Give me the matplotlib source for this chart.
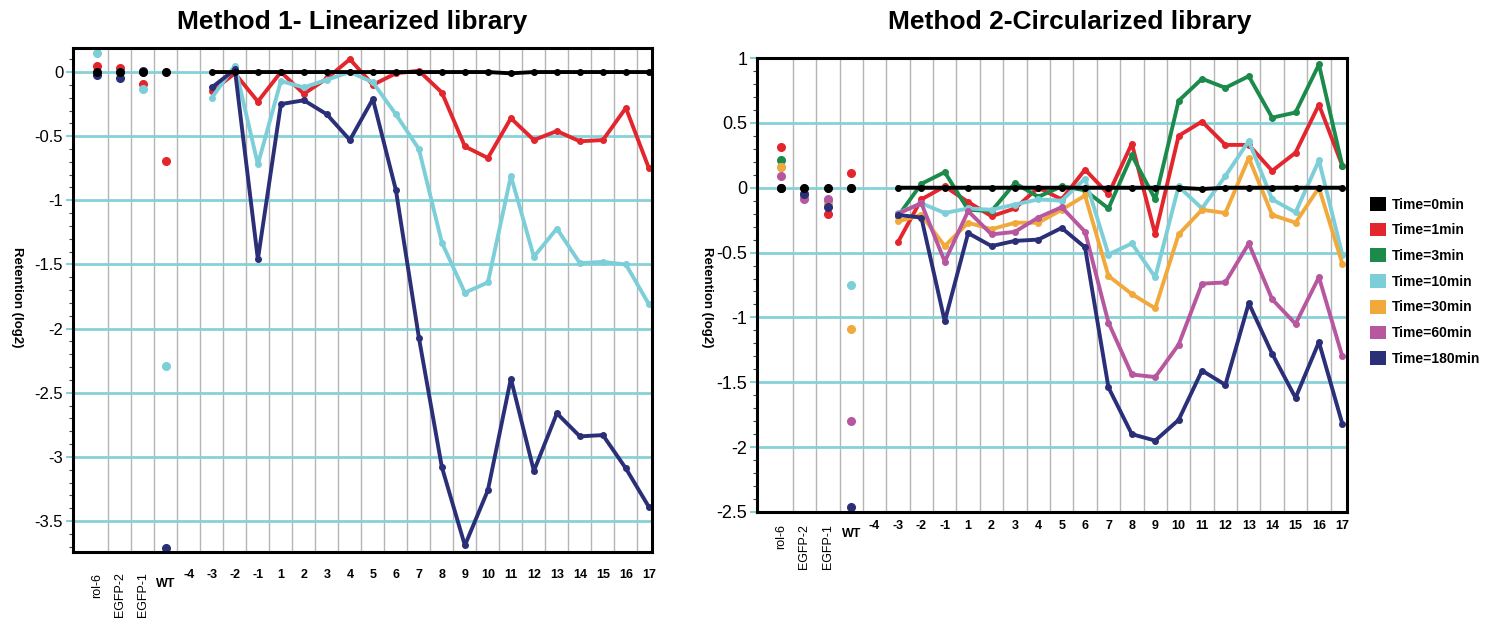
import numpy as np
import matplotlib.pyplot as plt
from matplotlib.patches import Patch
from matplotlib.ticker import MultipleLocator

plt.rcParams['font.family'] = ['Liberation Sans', 'DejaVu Sans']
plt.rcParams['axes.unicode_minus'] = False

# x categories: 4 controls, then positions -4..-1, 1..17
categories = ['rol-6', 'EGFP-2', 'EGFP-1', 'WT', '-4', '-3', '-2', '-1',
              '1', '2', '3', '4', '5', '6', '7', '8', '9', '10', '11', '12',
              '13', '14', '15', '16', '17']
control_cats = ['rol-6', 'EGFP-2', 'EGFP-1', 'WT']
line_cats = ['-3', '-2', '-1', '1', '2', '3', '4', '5', '6', '7', '8', '9',
             '10', '11', '12', '13', '14', '15', '16', '17']

series_names = ['Time=0min', 'Time=1min', 'Time=3min', 'Time=10min',
                'Time=30min', 'Time=60min', 'Time=180min']
colors = ['#000000', '#e3262d', '#1b8a4b', '#7ccfd8', '#f2a93b', '#b7579f', '#2a2f78']

# ---- Method 1 (linearized library) ----
m1_ctrl_0 = [0.0, 0.0, 0.0, 0.0]
m1_ctrl_1 = [0.05, 0.035, -0.09, -0.69]
m1_ctrl_10 = [0.148, 0.0, -0.135, -2.29]
m1_ctrl_180 = [-0.02, -0.045, 0.01, -3.71]

m1_line_0 = [0, 0, 0, 0, 0, 0, 0, 0, 0, 0, 0, 0, 0, -0.01, 0, 0, 0, 0, 0, 0]
m1_line_1 = [-0.15, -0.01, -0.23, 0.0, -0.17, -0.05, 0.10, -0.10, -0.01, 0.01,
             -0.16, -0.58, -0.67, -0.36, -0.53, -0.46, -0.54, -0.53, -0.28, -0.75]
m1_line_10 = [-0.20, 0.05, -0.72, -0.07, -0.12, -0.06, 0.0, -0.08, -0.33, -0.60,
              -1.33, -1.72, -1.64, -0.81, -1.44, -1.22, -1.49, -1.48, -1.50, -1.81]
m1_line_180 = [-0.12, 0.02, -1.46, -0.25, -0.22, -0.33, -0.53, -0.21, -0.92, -2.07,
               -3.08, -3.69, -3.26, -2.39, -3.11, -2.66, -2.84, -2.83, -3.09, -3.39]

# ---- Method 2 (circularized library) ----
m2_ctrl_0 = [0.0, 0.0, 0.0, 0.0]
m2_ctrl_1 = [0.31, -0.06, -0.20, 0.11]
m2_ctrl_3 = [0.215, -0.05, -0.10, 0.0]
m2_ctrl_10 = [0.16, -0.06, -0.12, -0.75]
m2_ctrl_30 = [0.156, -0.05, -0.12, -1.09]
m2_ctrl_60 = [0.087, -0.09, -0.09, -1.80]
m2_ctrl_180 = [0.0, -0.05, -0.145, -2.46]

m2_line_0 = [0, 0, 0, 0, 0, 0, 0, 0, 0, 0, 0, 0, 0, -0.01, 0, 0, 0, 0, 0, 0]
m2_line_1 = [-0.42, -0.09, 0.01, -0.11, -0.22, -0.16, 0.0, -0.09, 0.14, -0.05,
             0.34, -0.36, 0.40, 0.51, 0.33, 0.33, 0.13, 0.27, 0.64, 0.17]
m2_line_3 = [-0.22, 0.03, 0.12, -0.17, -0.18, 0.035, -0.07, 0.01, -0.02, -0.16,
             0.25, -0.09, 0.67, 0.84, 0.77, 0.86, 0.54, 0.58, 0.95, 0.17]
m2_line_10 = [-0.195, -0.12, -0.195, -0.16, -0.17, -0.13, -0.09, -0.10, 0.07, -0.515,
              -0.43, -0.69, 0.01, -0.16, 0.09, 0.36, -0.09, -0.19, 0.21, -0.515]
m2_line_30 = [-0.26, -0.21, -0.45, -0.27, -0.32, -0.27, -0.27, -0.17, -0.06, -0.68,
              -0.82, -0.93, -0.36, -0.17, -0.195, 0.23, -0.21, -0.27, 0.0, -0.585]
m2_line_60 = [-0.20, -0.12, -0.57, -0.18, -0.36, -0.34, -0.23, -0.15, -0.34, -1.04,
              -1.44, -1.46, -1.21, -0.74, -0.73, -0.43, -0.86, -1.05, -0.69, -1.30]
m2_line_180 = [-0.21, -0.23, -1.03, -0.35, -0.45, -0.41, -0.40, -0.31, -0.46, -1.54,
               -1.90, -1.95, -1.79, -1.41, -1.52, -0.89, -1.28, -1.62, -1.19, -1.82]

grid_cyan = '#86d1d8'


def draw_panel(ax, ctrls, lines, cols, ylim, yticks, xlim, tick_size, xpad):
    ctrl_x = [categories.index(c) for c in control_cats]
    line_x = [categories.index(c) for c in line_cats]

    # draw order: coloured series first, black on top
    order = list(range(1, len(lines))) + [0]
    for i in order:
        ax.plot(line_x, lines[i], color=cols[i], lw=2.8, marker='o', ms=4,
                solid_joinstyle='round', zorder=3)
    for i in order:
        ax.plot(ctrl_x, ctrls[i], 'o', color=cols[i], ms=5.5, zorder=4)

    ax.set_xlim(*xlim)
    ax.set_ylim(*ylim)

    ax.set_xticks(range(len(categories)))
    ax.set_xticklabels(categories, fontsize=9, fontweight='bold')
    ax.set_xticks(np.arange(0.5, len(categories) - 1, 1.0), minor=True)
    ax.tick_params(axis='x', which='both', length=0, pad=xpad)
    ax.grid(True, axis='x', which='minor', color='#b5b5b5', lw=1.0, zorder=0)
    for i, lab in enumerate(ax.get_xticklabels()):
        if i < 3:
            lab.set_rotation(90)
            lab.set_va('top')
            lab.set_fontweight('normal')
            lab.set_y(-0.008)
        elif i == 3:
            lab.set_y(-0.018)

    ax.set_yticks(yticks)
    ax.set_yticklabels(['%g' % v for v in yticks], fontsize=tick_size)
    ax.yaxis.set_minor_locator(MultipleLocator(0.1))
    ax.tick_params(axis='y', which='major', length=5, width=1.5, color=grid_cyan, pad=2)
    ax.tick_params(axis='y', which='minor', length=3, width=0.8, color='#444444')
    ax.grid(True, axis='y', which='major', color=grid_cyan, lw=2.0, zorder=1)
    ax.set_axisbelow(True)

    for sp in ax.spines.values():
        sp.set_linewidth(2.2)
        sp.set_color('black')
        sp.set_zorder(5)


fig = plt.figure(figsize=(15.01, 6.19), dpi=100)
ax1 = fig.add_axes([0.0486, 0.1085, 0.3857, 0.8145])
ax2 = fig.add_axes([0.5043, 0.1729, 0.3931, 0.7334])

m1_cols = [colors[0], colors[1], colors[3], colors[6]]
draw_panel(ax1,
           [m1_ctrl_0, m1_ctrl_1, m1_ctrl_10, m1_ctrl_180],
           [m1_line_0, m1_line_1, m1_line_10, m1_line_180],
           m1_cols, (-3.74, 0.19), [0, -0.5, -1, -1.5, -2, -2.5, -3, -3.5],
           (-1.04, 24.13), 12, 12)

draw_panel(ax2,
           [m2_ctrl_0, m2_ctrl_1, m2_ctrl_3, m2_ctrl_10, m2_ctrl_30, m2_ctrl_60, m2_ctrl_180],
           [m2_line_0, m2_line_1, m2_line_3, m2_line_10, m2_line_30, m2_line_60, m2_line_180],
           colors, (-2.5, 1.0), [1, 0.5, 0, -0.5, -1, -1.5, -2, -2.5],
           (-1.03, 24.2), 13, 6)

fig.text(177 / 1501, 1 - 22 / 619, 'Method 1- Linearized library', ha='left', va='center',
         fontsize=19, fontweight='bold')
fig.text(888 / 1501, 1 - 22 / 619, 'Method 2-Circularized library', ha='left', va='center',
         fontsize=19, fontweight='bold')

fig.text(17 / 1501, 0.52, 'Retention (log2)', rotation=270, ha='center', va='center',
         fontsize=9.5, fontweight='bold')
fig.text(707 / 1501, 0.52, 'Retention (log2)', rotation=270, ha='center', va='center',
         fontsize=9.5, fontweight='bold')

handles = [Patch(facecolor=c, edgecolor='none') for c in colors]
fig.legend(handles, series_names, loc='upper left',
           bbox_to_anchor=(1370 / 1501, 1 - 197 / 619), frameon=False,
           prop={'weight': 'bold', 'size': 10}, handlelength=1.15, handleheight=1.15,
           labelspacing=0.8, handletextpad=0.4, borderaxespad=0, borderpad=0)

fig.savefig('out.png', dpi=100)
